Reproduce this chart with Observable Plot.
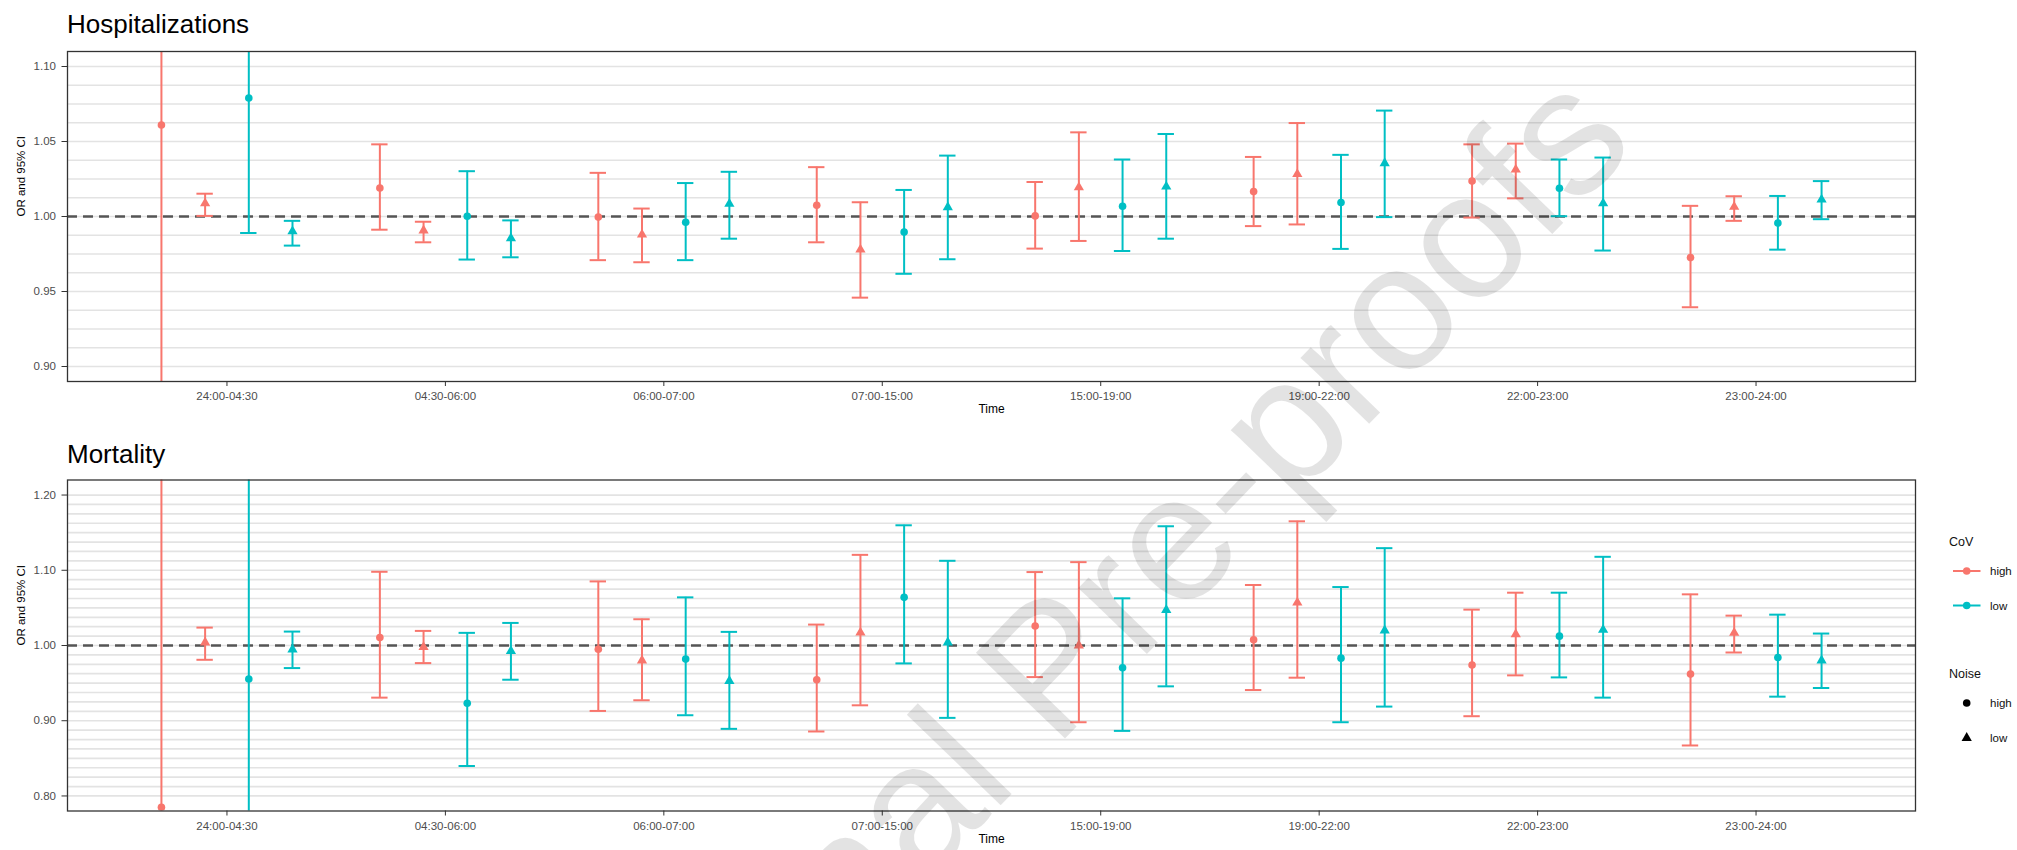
<!DOCTYPE html>
<html><head><meta charset="utf-8">
<script src="https://cdn.jsdelivr.net/npm/d3@7"></script>
<script src="https://cdn.jsdelivr.net/npm/@observablehq/plot@0.6"></script>
<style>
html,body{margin:0;padding:0;background:#fff;}
#root{position:relative;width:2017px;height:850px;overflow:hidden;font-family:"Liberation Sans",Arial,sans-serif;}
.ptitle{position:absolute;left:67px;font-size:26px;line-height:26px;color:#000;white-space:nowrap;}
.panel{position:absolute;left:0;}
#overlay{position:absolute;left:0;top:0;pointer-events:none;}
</style></head><body><div id="root"></div>
<script>
// ---- categories ----
const times = ["24:00-04:30","04:30-06:00","06:00-07:00","07:00-15:00","15:00-19:00","19:00-22:00","22:00-23:00","23:00-24:00"];
const covLevels = ["high","low"];
const noiseLevels = ["high","low"];
const hospTicks = [0.90, 0.95, 1.00, 1.05, 1.10];
const mortTicks = [0.80, 0.90, 1.00, 1.10, 1.20];
const gridStep = 0.0125;

// ---- Hospitalizations: OR, lower, upper (CoV / Noise) ----
const hospOR_HH = [1.061, 1.019, 0.9996, 1.0075, 1.0004, 1.0166, 1.0236, 0.9726];
const hospLo_HH = [0.85, 0.9912, 0.9709, 0.9828, 0.9786, 0.9936, 0.9993, 0.9395];
const hospHi_HH = [1.32, 1.0481, 1.0291, 1.0329, 1.0230, 1.0397, 1.0481, 1.0071];
const hospOR_HL = [1.0088, 0.9907, 0.9879, 0.9779, 1.0194, 1.0283, 1.0313, 1.0064];
const hospLo_HL = [1.0004, 0.9828, 0.9695, 0.9459, 0.9837, 0.9947, 1.0121, 0.9971];
const hospHi_HL = [1.0152, 0.9965, 1.0053, 1.0095, 1.0561, 1.0623, 1.0486, 1.0135];
const hospOR_LH = [1.079, 1.0002, 0.9962, 0.9896, 1.0068, 1.0093, 1.0188, 0.9956];
const hospLo_LH = [0.989, 0.9713, 0.9709, 0.9618, 0.9770, 0.9784, 1.0002, 0.9779];
const hospHi_LH = [1.178, 1.0302, 1.0223, 1.0177, 1.0380, 1.0411, 1.0380, 1.0137];
const hospOR_LL = [0.9901, 0.9854, 1.0084, 1.0062, 1.0199, 1.0355, 1.0088, 1.0113];
const hospLo_LL = [0.9806, 0.9728, 0.9852, 0.9715, 0.9852, 0.9996, 0.9773, 0.9982];
const hospHi_LL = [0.9971, 0.9974, 1.0298, 1.0406, 1.0550, 1.0706, 1.0393, 1.0236];

// ---- Mortality ----
const mortOR_HH = [0.785, 1.0106, 0.9951, 0.9545, 1.026, 1.0075, 0.974, 0.962];
const mortLo_HH = [0.45, 0.9307, 0.913, 0.8857, 0.958, 0.9408, 0.906, 0.8671];
const mortHi_HH = [1.37, 1.098, 1.0852, 1.0278, 1.0976, 1.0804, 1.0477, 1.068];
const mortOR_HL = [1.004, 0.9978, 0.9801, 1.0172, 1.000, 1.057, 1.015, 1.0168];
const mortLo_HL = [0.981, 0.9766, 0.9272, 0.9205, 0.898, 0.9572, 0.9603, 0.9907];
const mortHi_HL = [1.0238, 1.0194, 1.0349, 1.1205, 1.1108, 1.1651, 1.0702, 1.0397];
const mortOR_LH = [0.9554, 0.9232, 0.9819, 1.064, 0.9704, 0.9832, 1.0124, 0.9841];
const mortLo_LH = [0.70, 0.8397, 0.9073, 0.9762, 0.8865, 0.898, 0.9576, 0.932];
const mortHi_LH = [1.30, 1.0168, 1.064, 1.1598, 1.0627, 1.0777, 1.0702, 1.041];
const mortOR_LL = [0.9947, 0.9925, 0.9528, 1.004, 1.0472, 1.0199, 1.0208, 0.9801];
const mortLo_LL = [0.970, 0.9545, 0.8892, 0.9038, 0.9457, 0.9188, 0.9307, 0.9435];
const mortHi_LL = [1.0185, 1.030, 1.0181, 1.1126, 1.1585, 1.1294, 1.1179, 1.0159];

const COLORS = ["#F8766D", "#00BFC4"];
const FONT = "'Liberation Sans', Arial, sans-serif";

function buildRows(series) {
  // series: list of [cov, noise, or, lo, hi] in dodge order
  const rows = [];
  const n = series.length, dodge = 0.8;
  series.forEach(([cov, noise, or, lo, hi], g) => {
    const off = (g - (n - 1) / 2) * dodge / n;
    times.forEach((t, i) => rows.push({time: t, pos: i + 1 + off, cov, noise, or: or[i], lo: lo[i], hi: hi[i]}));
  });
  return rows;
}

const hospRows = buildRows([
  ["high","high",hospOR_HH,hospLo_HH,hospHi_HH],
  ["high","low",hospOR_HL,hospLo_HL,hospHi_HL],
  ["low","high",hospOR_LH,hospLo_LH,hospHi_LH],
  ["low","low",hospOR_LL,hospLo_LL,hospHi_LL]
]);
const mortRows = buildRows([
  ["high","high",mortOR_HH,mortLo_HH,mortHi_HH],
  ["high","low",mortOR_HL,mortLo_HL,mortHi_HL],
  ["low","high",mortOR_LH,mortLo_LH,mortHi_LH],
  ["low","low",mortOR_LL,mortLo_LL,mortHi_LL]
]);

function panel(rows, ticks, height, mt, mb) {
  const lo = ticks[0], hi = ticks[ticks.length - 1];
  const pad = (hi - lo) * 0.05;
  const grid = d3.range(0, Math.round((hi - lo) / gridStep) + 1).map(k => +(lo + k * gridStep).toFixed(5));
  const cap = 0.0375;
  return Plot.plot({
    width: 1930, height, marginLeft: 67, marginRight: 15, marginTop: mt, marginBottom: mb,
    style: {fontFamily: FONT, fontSize: "11.5px", color: "#4d4d4d", background: "transparent", overflow: "visible"},
    x: {type: "linear", domain: [0.27, times.length + 0.73]},
    y: {type: "linear", domain: [lo - pad, hi + pad]},
    color: {domain: covLevels, range: COLORS},
    symbol: {domain: noiseLevels, range: ["circle", "triangle"]},
    marks: [
      Plot.gridY(grid, {stroke: "#e3e3e3", strokeOpacity: 1, strokeWidth: 1.7}),
      Plot.ruleY([1], {stroke: "#555", strokeWidth: 2.4, strokeDasharray: "10,6"}),
      Plot.ruleX(rows, {x: "pos", y1: "lo", y2: "hi", stroke: "cov", strokeWidth: 2, clip: true}),
      Plot.ruleY(rows, {y: "lo", x1: d => d.pos - cap, x2: d => d.pos + cap, stroke: "cov", strokeWidth: 2, clip: true}),
      Plot.ruleY(rows, {y: "hi", x1: d => d.pos - cap, x2: d => d.pos + cap, stroke: "cov", strokeWidth: 2, clip: true}),
      Plot.dot(rows, {x: "pos", y: "or", fill: "cov", symbol: "noise", r: 3.8, stroke: "none", clip: true}),
      Plot.frame({stroke: "#333", strokeWidth: 1.3}),
      Plot.axisX({ticks: times.map((_, i) => i + 1), tickFormat: i => times[i - 1], tickSize: 5, tickPadding: 5.5, stroke: "#333", fill: "#4d4d4d", fontSize: 11.5, label: null}),
      Plot.axisY({ticks, tickFormat: d => d.toFixed(2), tickSize: 5.5, tickPadding: 6, stroke: "#333", fill: "#4d4d4d", fontSize: 11.5, label: null}),
      Plot.text(["Time"], {frameAnchor: "bottom", dy: 31.5, fontSize: 12, fill: "#000"}),
      Plot.text(["OR and 95% CI"], {frameAnchor: "left", dx: -46.5, rotate: -90, fontSize: 11.5, fill: "#000"})
    ]
  });
}

const root = document.getElementById("root");

function addTitle(text, top) {
  const d = document.createElement("div");
  d.className = "ptitle"; d.textContent = text; d.style.top = top + "px";
  root.appendChild(d);
}

const p1 = panel(hospRows, hospTicks, 430, 51, 49);
p1.classList.add("panel"); p1.style.top = "0px"; root.appendChild(p1);
const p2 = panel(mortRows, mortTicks, 420, 49.5, 39.5);
p2.classList.add("panel"); p2.style.top = "430px"; root.appendChild(p2);
addTitle("Hospitalizations", 11);
addTitle("Mortality", 440.5);

// ---- legend ----
const svg = d3.select(root).append("svg").attr("id", "overlay").attr("width", 2017).attr("height", 850)
  .style("font-family", FONT);
const lg = svg.append("g");
lg.append("text").attr("x", 1949).attr("y", 542).attr("dy", "0.35em").attr("font-size", 12.5).attr("fill", "#111").text("CoV");
covLevels.forEach((c, i) => {
  const y = 571 + i * 34.5;
  lg.append("line").attr("x1", 1953).attr("x2", 1980.5).attr("y1", y).attr("y2", y).attr("stroke", COLORS[i]).attr("stroke-width", 2);
  lg.append("circle").attr("cx", 1966.7).attr("cy", y).attr("r", 3.8).attr("fill", COLORS[i]);
  lg.append("text").attr("x", 1990).attr("y", y).attr("dy", "0.35em").attr("font-size", 11.5).attr("fill", "#111").text(c);
});
lg.append("text").attr("x", 1949).attr("y", 674).attr("dy", "0.35em").attr("font-size", 12.5).attr("fill", "#111").text("Noise");
noiseLevels.forEach((nz, i) => {
  const y = 703 + i * 35;
  const sym = d3.symbol().type(i === 0 ? d3.symbolCircle : d3.symbolTriangle).size(Math.PI * 3.8 * 3.8);
  lg.append("path").attr("d", sym()).attr("transform", `translate(1966.7,${y})`).attr("fill", "#000");
  lg.append("text").attr("x", 1990).attr("y", y).attr("dy", "0.35em").attr("font-size", 11.5).attr("fill", "#111").text(nz);
});

// ---- watermark ----
svg.append("text").attr("x", 610).attr("y", 1210).attr("transform", "rotate(-46 610 1210)")
  .attr("font-size", 180).attr("fill", "#000").attr("fill-opacity", 0.11).text("Journal Pre-proofs");
</script></body></html>
